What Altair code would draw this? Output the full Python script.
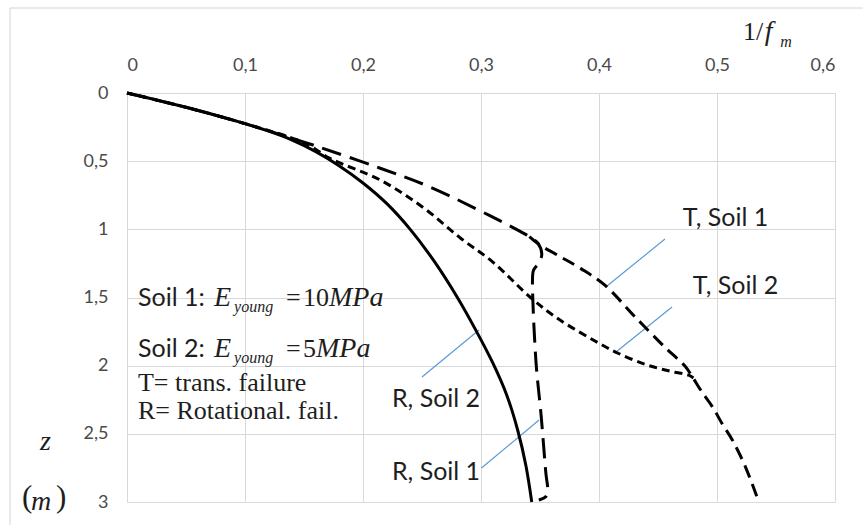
import altair as alt
import pandas as pd

# ---- curves: inverse safety factor 1/f_m against depth z (m) ----
# R, Soil 2 (rotational failure, E = 5 MPa)
r_soil2_x = [0, 0.05, 0.1, 0.12, 0.14, 0.16, 0.18, 0.2, 0.22, 0.24, 0.26, 0.28, 0.295, 0.31, 0.322, 0.331, 0.338, 0.343]
r_soil2_z = [0, 0.105, 0.225, 0.28, 0.345, 0.43, 0.535, 0.66, 0.81, 1.0, 1.23, 1.5, 1.73, 1.98, 2.22, 2.47, 2.73, 3.0]

# R, Soil 1 (rotational failure, E = 10 MPa)
r_soil1_x = [0, 0.05, 0.1, 0.15, 0.164, 0.214, 0.257, 0.3075, 0.33, 0.341, 0.348, 0.3515,
             0.3495, 0.3445, 0.3437, 0.3465, 0.351, 0.355, 0.3565, 0.355, 0.349]
r_soil1_z = [0, 0.105, 0.225, 0.36, 0.40, 0.55, 0.69, 0.9, 1.0, 1.054, 1.10, 1.18,
             1.24, 1.30, 1.35, 1.96, 2.37, 2.79, 2.91, 2.96, 2.985]

# T, Soil 1 (translational failure, E = 10 MPa) - branch below z = 1 m
t_soil1_x = [0.341, 0.349, 0.366, 0.385, 0.405, 0.431, 0.456, 0.473, 0.479, 0.487, 0.496, 0.504, 0.513, 0.524, 0.535]
t_soil1_z = [1.054, 1.11, 1.195, 1.29, 1.41, 1.646, 1.866, 2.005, 2.08, 2.19, 2.30, 2.42, 2.545, 2.74, 2.99]

# T, Soil 2 (translational failure, E = 5 MPa)
t_soil2_x = [0, 0.05, 0.1, 0.15, 0.172, 0.215, 0.251, 0.282, 0.31, 0.342, 0.366, 0.403, 0.414, 0.439, 0.46, 0.476, 0.48]
t_soil2_z = [0, 0.105, 0.225, 0.365, 0.48, 0.64, 0.84, 1.06, 1.24, 1.5, 1.66, 1.85, 1.9, 1.99, 2.04, 2.07, 2.09]

x_ticks = [0, 0.1, 0.2, 0.3, 0.4, 0.5, 0.6]
z_ticks = [0, 0.5, 1, 1.5, 2, 2.5, 3]

# callout labels and their leader lines (x, z of both ends)
callout_text = ["T, Soil 1", "T, Soil 2", "R, Soil 2", "R, Soil 1"]
callout_x = [0.471, 0.4795, 0.2245, 0.2245]
callout_z = [0.976, 1.474, 2.303, 2.839]
leader_x1 = [0.4068, 0.4144, 0.25, 0.3004]
leader_z1 = [1.416, 1.900, 2.083, 2.751]
leader_x2 = [0.4559, 0.4619, 0.2983, 0.3492]
leader_z2 = [1.071, 1.570, 1.738, 2.399]

XS = alt.Scale(domain=[0, 0.6], nice=False, zero=False)
ZS = alt.Scale(domain=[0, 3], nice=False, zero=False, reverse=True)


def curve_df(xs, zs):
    return pd.DataFrame({"x": xs, "z": zs, "i": range(len(xs))})


def curve(xs, zs, dash=None, width=3.0):
    props = dict(color="black", strokeWidth=width, interpolate="catmull-rom", strokeCap="butt")
    if dash:
        props["strokeDash"] = dash
    return alt.Chart(curve_df(xs, zs)).mark_line(**props).encode(
        x=alt.X("x:Q", scale=XS),
        y=alt.Y("z:Q", scale=ZS),
        order="i:Q",
    )


# base layer carrying the axes and grid
axes = alt.Chart(pd.DataFrame({"x": [0], "z": [0]})).mark_point(opacity=0).encode(
    x=alt.X("x:Q", scale=XS, title=None,
            axis=alt.Axis(orient="top", values=x_ticks,
                          labelExpr="replace(format(datum.value, '.1~f'), '.', ',')")),
    y=alt.Y("z:Q", scale=ZS, title=None,
            axis=alt.Axis(values=z_ticks,
                          labelExpr="replace(format(datum.value, '~g'), '.', ',')")),
)

lines = [
    curve(r_soil2_x, r_soil2_z),
    curve(r_soil1_x, r_soil1_z, dash=[20, 9]),
    curve(t_soil1_x, t_soil1_z, dash=[13, 7]),
    curve(t_soil2_x, t_soil2_z, dash=[8, 5]),
]

leaders = alt.Chart(pd.DataFrame({"x": leader_x1, "z": leader_z1,
                                  "x2": leader_x2, "z2": leader_z2})).mark_rule(
    color="#5b9bd5", strokeWidth=1.2
).encode(x=alt.X("x:Q", scale=XS), y=alt.Y("z:Q", scale=ZS), x2="x2:Q", y2="z2:Q")

callouts = alt.Chart(pd.DataFrame({"x": callout_x, "z": callout_z, "t": callout_text})).mark_text(
    font="Lato", fontSize=25, color="#1e1e1e", align="left", baseline="alphabetic"
).encode(x=alt.X("x:Q", scale=XS), y=alt.Y("z:Q", scale=ZS), text="t:N")

# legend-like notes: mixed plain text and formula pieces
note_pieces = [
    # text, x, z, style
    ("Soil 1:", 0.0093, 1.562, "sans"),
    ("E", 0.0737, 1.562, "it"),
    ("young", 0.0907, 1.606, "sub"),
    ("=", 0.1347, 1.562, "rm"),
    ("10", 0.1492, 1.562, "rm"),
    ("MPa", 0.1712, 1.562, "it"),
    ("Soil 2:", 0.0093, 1.936, "sans"),
    ("E", 0.0737, 1.936, "it"),
    ("young", 0.0907, 1.980, "sub"),
    ("=", 0.1347, 1.936, "rm"),
    ("5", 0.1492, 1.936, "rm"),
    ("MPa", 0.1602, 1.936, "it"),
    ("T= trans. failure", 0.0093, 2.189, "rm"),
    ("R= Rotational. fail.", 0.0093, 2.388, "rm"),
    # axis titles
    ("1/", 0.522, -0.389, "rm"),
    ("f", 0.5405, -0.389, "it"),
    ("m", 0.5535, -0.337, "sub"),
    ("z", -0.0737, 2.619, "it"),
    ("(", -0.089, 3.037, "paren"),
    ("m", -0.0814, 3.059, "it"),
    (")", -0.0602, 3.037, "paren"),
]
notes = pd.DataFrame(note_pieces, columns=["t", "x", "z", "style"])

styles = {
    "sans": dict(font="Lato", fontSize=25, color="#1e1e1e"),
    "it": dict(font="Liberation Serif", fontSize=28, fontStyle="italic", color="#1e1e1e"),
    "sub": dict(font="Liberation Serif", fontSize=16, fontStyle="italic", color="#1e1e1e"),
    "rm": dict(font="Liberation Serif", fontSize=26, color="#1e1e1e"),
    "paren": dict(font="Liberation Serif", fontSize=31, color="#1e1e1e"),
}
note_layers = [
    alt.Chart(notes[notes["style"] == s]).mark_text(align="left", baseline="alphabetic", **kw).encode(
        x=alt.X("x:Q", scale=XS), y=alt.Y("z:Q", scale=ZS), text="t:N")
    for s, kw in styles.items()
]

# thin outer frame of the figure (top and left edges)
frame_top = alt.Chart(pd.DataFrame({"k": [0]})).mark_rule(color="#d4d4d4", strokeWidth=1).encode(
    x=alt.value(-117), x2=alt.value(736), y=alt.value(-85))
frame_left = alt.Chart(pd.DataFrame({"k": [0]})).mark_rule(color="#d4d4d4", strokeWidth=1).encode(
    x=alt.value(-117), y=alt.value(-85), y2=alt.value(432))

chart = alt.layer(
    axes, frame_top, frame_left, leaders, *lines, callouts, *note_layers
).properties(
    width=708, height=409,
    autosize=alt.AutoSizeParams(type="none"),
    padding={"left": 127, "top": 93, "right": 28, "bottom": 23},
    background="white",
).configure_view(stroke=None).configure_axis(
    grid=True, gridColor="#d9d9d9", gridWidth=1, domain=False, ticks=False,
    labelFont="Lato", labelFontSize=18, labelColor="#4a4a4a",
).configure_axisX(labelPadding=19).configure_axisY(labelPadding=19)

chart.save("out.html", embed_options={"renderer": "svg", "actions": False})
